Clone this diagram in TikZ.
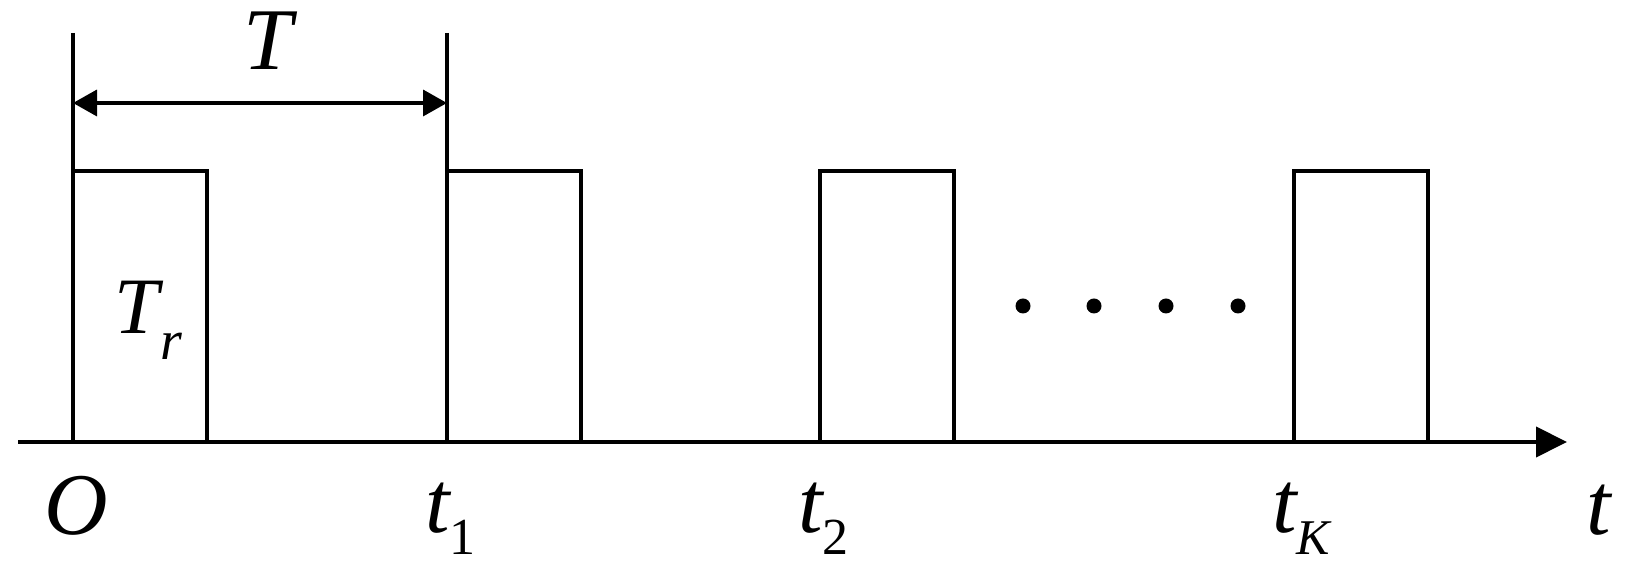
\documentclass[tikz,border=0pt]{standalone}
\usepackage{fontspec}
\setmainfont{Liberation Serif}
\usetikzlibrary{arrows.meta}
\begin{document}
\begin{tikzpicture}[x=0.5pt,y=-0.5pt,
  pulse/.style={line width=1.6pt},
  axisline/.style={line width=2pt,-{Triangle[length=15.5pt,width=15pt]}},
  dimline/.style={line width=1.8pt,{Triangle[length=12pt,width=13pt]}-{Triangle[length=12pt,width=13pt]}},
  lbl/.style={inner sep=0pt,anchor=base west,font=\fontsize{44}{44}\selectfont\itshape},
  dotmark/.style={circle,fill=black,inner sep=0pt,minimum size=7.5pt}]
\useasboundingbox (0,0) rectangle (1634,565);
% axis
\coordinate (axstart) at (18,442);
\coordinate (axend) at (1567,442);
\draw[axisline] (axstart) -- (axend);
% pulses
\foreach \x/\n in {73/p1,447/p2,820/p3,1294/p4}{
  \draw[pulse] (\x,442) -- (\x,171) -- (\x+134,171) -- (\x+134,442);
}
% period marker
\coordinate (v1top) at (73,33);
\coordinate (v2top) at (447,33);
\coordinate (v1bot) at (73,171);
\coordinate (v2bot) at (447,171);
\draw[pulse] (v1top) -- (v1bot);
\draw[pulse] (v2top) -- (v2bot);
\coordinate (da) at (73,103);
\coordinate (db) at (447,103);
\draw[dimline] (da) -- (db);
\node[lbl,anchor=base] (Tlbl) at (268,70) {T};
% T_r
\node[lbl,font=\fontsize{40}{40}\selectfont\itshape] (Tr) at (114,334) {T\hspace{1pt}\raisebox{-13pt}{\fontsize{28}{28}\selectfont r}};
% dots
\foreach \x/\n in {1023/d1,1094/d2,1166/d3,1238/d4}{
  \node[dotmark] (\n) at (\x,306) {};
}
% labels
\node[lbl] (O) at (44,535) {O};
\node[lbl] (t1) at (425,533) {t\raisebox{-11pt}{\fontsize{26}{26}\selectfont\upshape 1}};
\node[lbl] (t2) at (798,533) {t\raisebox{-11pt}{\fontsize{26}{26}\selectfont\upshape 2}};
\node[lbl] (tK) at (1272,533) {t\raisebox{-11pt}{\fontsize{25}{25}\selectfont K}};
\node[lbl] (tax) at (1586,535) {t};
\end{tikzpicture}
\end{document}
